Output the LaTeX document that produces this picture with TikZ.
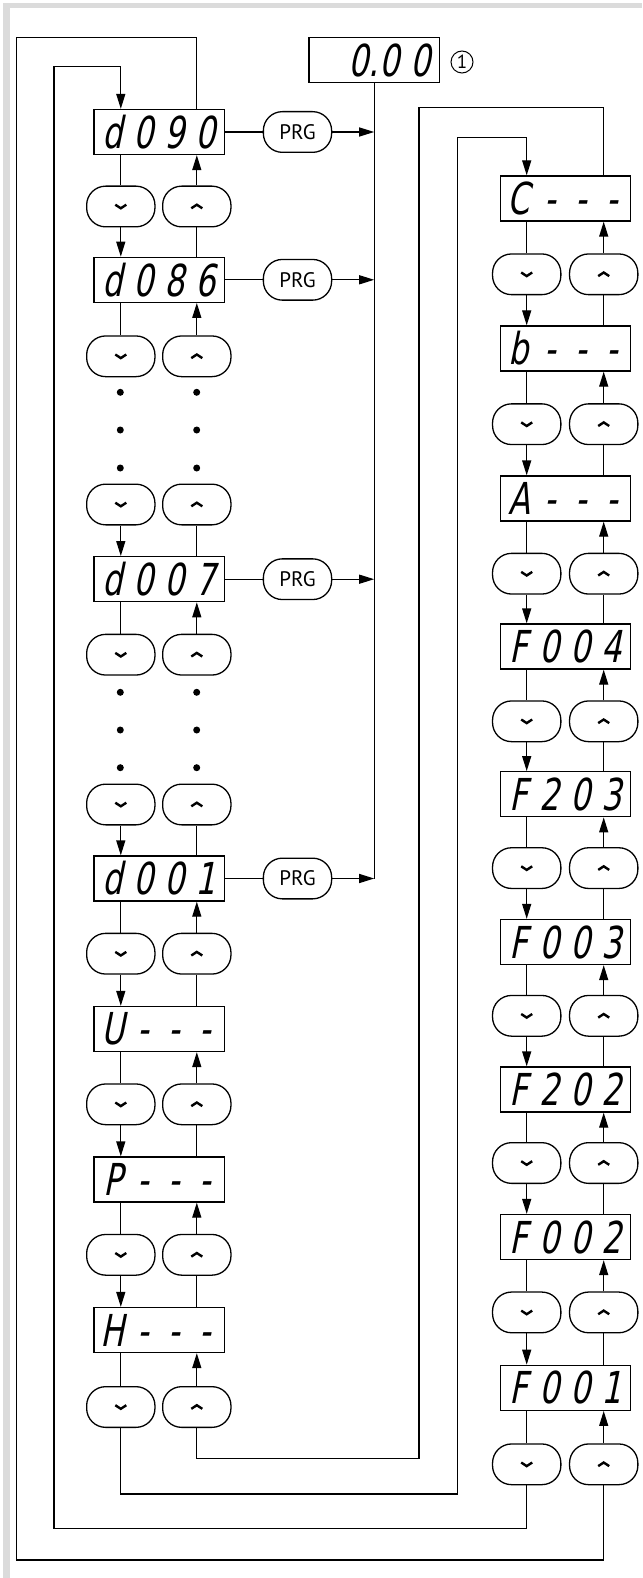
\documentclass[tikz,border=0pt]{standalone}
\usepackage{fontspec}
\usetikzlibrary{arrows.meta}
\newfontfamily\segfont{DejaVu Sans}[FakeStretch=0.72,FakeSlant=0.2]
\newfontfamily\prgfont{PT Sans}
\newcommand\sg[4]{{\segfont\fontsize{44pt}{44pt}\selectfont\makebox[31pt]{#1}\makebox[31pt]{#2}\makebox[31pt]{#3}\makebox[31pt]{#4}}}
\newcommand\lnk[4]{%
 \draw (#2 |- #1.south) -- (#2.north);
 \draw[arr] (#2.south) -- (#2 |- #4.north);
 \draw[arr] (#3.north) -- (#3 |- #1.south);
 \draw (#3 |- #4.north) -- (#3.south);}
\newcommand\lnktop[3]{%
 \draw (#2 |- #1.south) -- (#2.north);
 \draw[arr] (#3.north) -- (#3 |- #1.south);}
\newcommand\lnkbot[3]{%
 \draw[arr] (#1.south) -- (#1 |- #3.north);
 \draw (#2 |- #3.north) -- (#2.south);}
\begin{document}
\begin{tikzpicture}[x=1pt,y=-1pt, line width=1.3pt,
  lcd/.style={draw, rectangle, minimum width=130.5pt, minimum height=45pt, inner sep=0pt},
  key/.style={draw, rectangle, rounded corners=19pt, minimum width=68.3pt, minimum height=40.7pt, inner sep=0pt},
  prgkey/.style={key},
  arr/.style={-{Triangle[length=15pt,width=9pt]}},
  chev/.style={line width=2.4pt},
  dotmark/.style={circle, fill=black, inner sep=0pt, minimum size=7pt}
]
\useasboundingbox (0,0) rectangle (642,1578);
\fill[gray!28] (3,3) rectangle (642,8);
\fill[gray!28] (3,3) rectangle (10,1578);

% start display
\node[lcd] (zero) at (374.2,60.2) {\sg{}{0\rlap{.}}{0}{0}};
\node[circle, draw, line width=1pt, inner sep=0pt, minimum size=22pt] (c1) at (462,62) {\prgfont\fontsize{19pt}{19pt}\selectfont 1};

% left column displays
\node[lcd] (L1) at (159.2,132) {\sg d090};
\node[lcd] (L2) at (159.2,279.8) {\sg d086};
\node[lcd] (L3) at (159.2,579.2) {\sg d007};
\node[lcd] (L4) at (159.2,878.5) {\sg d001};
\node[lcd] (L5) at (159.2,1029) {\sg U---};
\node[lcd] (L6) at (159.2,1179.5) {\sg P---};
\node[lcd] (L7) at (159.2,1330) {\sg H---};

% right column displays
\node[lcd] (R1) at (565.5,198.5) {\sg C---};
\node[lcd] (R2) at (565.5,348.5) {\sg b---};
\node[lcd] (R3) at (565.5,498.5) {\sg A---};
\node[lcd] (R4) at (565.5,646.5) {\sg F004};
\node[lcd] (R5) at (565.5,794.2) {\sg F203};
\node[lcd] (R6) at (565.5,942) {\sg F003};
\node[lcd] (R7) at (565.5,1089.5) {\sg F202};
\node[lcd] (R8) at (565.5,1237) {\sg F002};
\node[lcd] (R9) at (565.5,1387.8) {\sg F001};

% keys
\foreach \i/\y in {1/206.5,2/356.3,3/504.5,4/654.7,5/804.5,6/953.7,7/1104.3,8/1254.8,9/1407}{
  \node[key] (Ld\i) at (120.8,\y) {};
  \node[key] (Lu\i) at (196.8,\y) {};
  \draw[chev] ([shift={(-5.5,-1.8)}]Ld\i.center) -- ([shift={(0,1.8)}]Ld\i.center) -- ([shift={(5.5,-1.8)}]Ld\i.center);
  \draw[chev] ([shift={(-5.5,1.8)}]Lu\i.center) -- ([shift={(0,-1.8)}]Lu\i.center) -- ([shift={(5.5,1.8)}]Lu\i.center);
}
\foreach \i/\y in {1/274.3,2/424.2,3/573.7,4/721.3,5/868.1,6/1015.8,7/1163,8/1312.4,9/1464.3}{
  \node[key] (Rd\i) at (526.7,\y) {};
  \node[key] (Ru\i) at (603.7,\y) {};
  \draw[chev] ([shift={(-5.5,-1.8)}]Rd\i.center) -- ([shift={(0,1.8)}]Rd\i.center) -- ([shift={(5.5,-1.8)}]Rd\i.center);
  \draw[chev] ([shift={(-5.5,1.8)}]Ru\i.center) -- ([shift={(0,-1.8)}]Ru\i.center) -- ([shift={(5.5,1.8)}]Ru\i.center);
}

% dots
\foreach \y in {392.3,430,468,692.3,730,767.7}{
  \node[dotmark] at (120.3,\y) {};
  \node[dotmark] at (196.7,\y) {};
}

% left chain
\lnk{L1}{Ld1}{Lu1}{L2}
\lnktop{L2}{Ld2}{Lu2}
\lnkbot{Ld3}{Lu3}{L3}
\lnktop{L3}{Ld4}{Lu4}
\lnkbot{Ld5}{Lu5}{L4}
\lnk{L4}{Ld6}{Lu6}{L5}
\lnk{L5}{Ld7}{Lu7}{L6}
\lnk{L6}{Ld8}{Lu8}{L7}
\lnktop{L7}{Ld9}{Lu9}

% right chain
\lnk{R1}{Rd1}{Ru1}{R2}
\lnk{R2}{Rd2}{Ru2}{R3}
\lnk{R3}{Rd3}{Ru3}{R4}
\lnk{R4}{Rd4}{Ru4}{R5}
\lnk{R5}{Rd5}{Ru5}{R6}
\lnk{R6}{Rd6}{Ru6}{R7}
\lnk{R7}{Rd7}{Ru7}{R8}
\lnk{R8}{Rd8}{Ru8}{R9}
\lnktop{R9}{Rd9}{Ru9}

% PRG keys
\node[prgkey] (prg1) at (297.5,132) {\prgfont\fontsize{21pt}{21pt}\selectfont PRG};
\node[prgkey] (prg2) at (297.5,279.8) {\prgfont\fontsize{21pt}{21pt}\selectfont PRG};
\node[prgkey] (prg3) at (297.5,579.2) {\prgfont\fontsize{21pt}{21pt}\selectfont PRG};
\node[prgkey] (prg4) at (297.5,878.5) {\prgfont\fontsize{21pt}{21pt}\selectfont PRG};
\draw (L1.east) -- (prg1.west);
\draw (L2.east) -- (prg2.west);
\draw (L3.east) -- (prg3.west);
\draw (L4.east) -- (prg4.west);
\draw[arr] (prg1.east) -- (prg1.east -| zero.south);
\draw[arr] (prg2.east) -- (prg2.east -| zero.south);
\draw[arr] (prg3.east) -- (prg3.east -| zero.south);
\draw[arr] (prg4.east) -- (prg4.east -| zero.south);
\draw (zero.south) -- (zero.south |- prg4.east);

% wrap-around loops
\draw (Ru9.south) |- (16.5,1560) -- (16.5,37.3) -| (Lu1 |- L1.north);
\draw[arr] (Rd9.south) |- (54,1528.3) -- (54,66.7) -| (Ld1 |- L1.north);
\draw[arr] (Ld9.south) |- (457.3,1494) -- (457.3,137.7) -| (Rd1 |- R1.north);
\draw (Lu9.south) |- (419,1458.3) -- (419,107.7) -| (Ru1 |- R1.north);
\end{tikzpicture}
\end{document}
